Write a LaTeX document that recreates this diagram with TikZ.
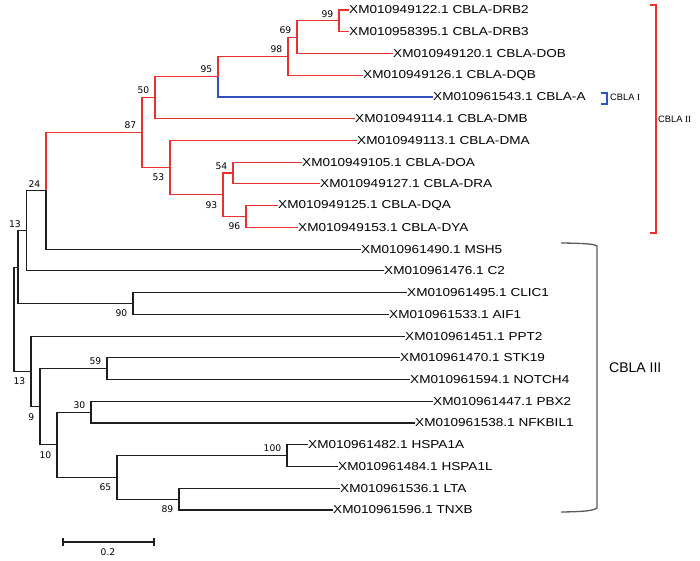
\documentclass[tikz,border=0pt]{standalone}
\usepackage{fontspec}
\usepackage{graphicx}
\setmainfont{Liberation Sans}
\newfontfamily\bsfont{DejaVu Sans}
\newfontfamily\romfont{Liberation Serif}
\newcommand{\leaftxt}[1]{\scalebox{1.18}[1]{#1}}
\definecolor{cladered}{RGB}{236,48,48}
\definecolor{cladeblue}{RGB}{50,80,190}
\definecolor{treeblack}{RGB}{30,30,30}
\definecolor{brackgrey}{RGB}{90,90,90}
\begin{document}
\begin{tikzpicture}[x=1pt,y=-1pt,
  branch/.style={line width=1.1pt, draw=treeblack, line cap=rect},
  redbranch/.style={line width=1.1pt, draw=cladered, line cap=rect},
  bluebranch/.style={line width=1.1pt, draw=cladeblue, line cap=rect},
  leaflab/.style={anchor=west, inner sep=1pt, font=\fontsize{11.5}{13}\selectfont, text=black},
  bsabove/.style={anchor=south east, inner sep=0pt, xshift=-5.5pt, yshift=3.5pt, font=\bsfont\fontsize{9.2}{11}\selectfont},
  bsbelow/.style={anchor=north east, inner sep=0pt, xshift=-5.5pt, yshift=-6.3pt, font=\bsfont\fontsize{9.2}{11}\selectfont}
]
\useasboundingbox (0,0) rectangle (700,561);
% leaves
\coordinate (l0) at (348,10);
\coordinate (l1) at (348,31.7);
\coordinate (l2) at (392,53.5);
\coordinate (l3) at (362,75.2);
\coordinate (l4) at (432,97);
\coordinate (l5) at (354,118.7);
\coordinate (l6) at (356,140.4);
\coordinate (l7) at (301,162.2);
\coordinate (l8) at (319,183.9);
\coordinate (l9) at (277,205.7);
\coordinate (l10) at (297,227.4);
\coordinate (l11) at (360,249.1);
\coordinate (l12) at (383,270.9);
\coordinate (l13) at (406,292.6);
\coordinate (l14) at (388,314.3);
\coordinate (l15) at (404,336.1);
\coordinate (l16) at (399,357.8);
\coordinate (l17) at (409,379.6);
\coordinate (l18) at (432,401.3);
\coordinate (l19) at (414,423);
\coordinate (l20) at (307,444.8);
\coordinate (l21) at (337,466.5);
\coordinate (l22) at (339,488.3);
\coordinate (l23) at (332,510);
% internal nodes
\coordinate (nA) at (339,20.85);
\coordinate (nB) at (297,37.2);
\coordinate (nC) at (288,56.2);
\coordinate (nD) at (218,76.6);
\coordinate (nE) at (155,97.6);
\coordinate (nJ) at (246,216.5);
\coordinate (nI) at (233,173);
\coordinate (nH) at (223,194.8);
\coordinate (nG) at (170,167.6);
\coordinate (nF) at (142,132.6);
\coordinate (nK) at (46,190.9);
\coordinate (nL) at (26.5,230.9);
\coordinate (nN) at (133,303.5);
\coordinate (nM) at (18,267.2);
\coordinate (nR) at (107,368.7);
\coordinate (nS) at (91,412.2);
\coordinate (nU) at (287,455.6);
\coordinate (nV) at (179,499.2);
\coordinate (nT) at (117,477.4);
\coordinate (nQ) at (57,444.8);
\coordinate (nP) at (40,406.8);
\coordinate (nO) at (31,371.5);
\coordinate (root) at (14,319.3);
% red clade
\draw[redbranch] (nA) |- (l0);
\draw[redbranch] (nA) |- (l1);
\draw[redbranch] (nB) |- (nA);
\draw[redbranch] (nB) |- (l2);
\draw[redbranch] (nC) |- (nB);
\draw[redbranch] (nC) |- (l3);
\draw[redbranch] (nD) |- (nC);
\draw[bluebranch] (nD) |- (l4);
\draw[redbranch] (nE) |- (nD);
\draw[redbranch] (nE) |- (l5);
\draw[redbranch] (nF) |- (nE);
\draw[redbranch] (nF) |- (nG);
\draw[redbranch] (nG) |- (l6);
\draw[redbranch] (nG) |- (nH);
\draw[redbranch] (nH) |- (nI);
\draw[redbranch] (nH) |- (nJ);
\draw[redbranch] (nI) |- (l7);
\draw[redbranch] (nI) |- (l8);
\draw[redbranch] (nJ) |- (l9);
\draw[redbranch] (nJ) |- (l10);
\draw[redbranch] (nK) |- (nF);
% black part
\draw[branch] (nK) |- (l11);
\draw[branch] (nL) |- (nK);
\draw[branch] (nL) |- (l12);
\draw[branch] (nM) |- (nL);
\draw[branch] (nM) |- (nN);
\draw[branch] (nN) |- (l13);
\draw[branch] (nN) |- (l14);
\draw[branch] (root) |- (nM);
\draw[branch] (root) |- (nO);
\draw[branch] (nO) |- (l15);
\draw[branch] (nO) |- (nP);
\draw[branch] (nP) |- (nR);
\draw[branch] (nP) |- (nQ);
\draw[branch] (nR) |- (l16);
\draw[branch] (nR) |- (l17);
\draw[branch] (nQ) |- (nS);
\draw[branch] (nQ) |- (nT);
\draw[branch] (nS) |- (l18);
\draw[branch] (nS) |- (l19);
\draw[branch] (nT) |- (nU);
\draw[branch] (nT) |- (nV);
\draw[branch] (nU) |- (l20);
\draw[branch] (nU) |- (l21);
\draw[branch] (nV) |- (l22);
\draw[branch] (nV) |- (l23);
% leaf labels
\node[leaflab] (t0) at (l0) {\leaftxt{XM010949122.1 CBLA-DRB2}};
\node[leaflab] (t1) at (l1) {\leaftxt{XM010958395.1 CBLA-DRB3}};
\node[leaflab] (t2) at (l2) {\leaftxt{XM010949120.1 CBLA-DOB}};
\node[leaflab] (t3) at (l3) {\leaftxt{XM010949126.1 CBLA-DQB}};
\node[leaflab] (t4) at (l4) {\leaftxt{XM010961543.1 CBLA-A}};
\node[leaflab] (t5) at (l5) {\leaftxt{XM010949114.1 CBLA-DMB}};
\node[leaflab] (t6) at (l6) {\leaftxt{XM010949113.1 CBLA-DMA}};
\node[leaflab] (t7) at (l7) {\leaftxt{XM010949105.1 CBLA-DOA}};
\node[leaflab] (t8) at (l8) {\leaftxt{XM010949127.1 CBLA-DRA}};
\node[leaflab] (t9) at (l9) {\leaftxt{XM010949125.1 CBLA-DQA}};
\node[leaflab] (t10) at (l10) {\leaftxt{XM010949153.1 CBLA-DYA}};
\node[leaflab] (t11) at (l11) {\leaftxt{XM010961490.1 MSH5}};
\node[leaflab] (t12) at (l12) {\leaftxt{XM010961476.1 C2}};
\node[leaflab] (t13) at (l13) {\leaftxt{XM010961495.1 CLIC1}};
\node[leaflab] (t14) at (l14) {\leaftxt{XM010961533.1 AIF1}};
\node[leaflab] (t15) at (l15) {\leaftxt{XM010961451.1 PPT2}};
\node[leaflab] (t16) at (l16) {\leaftxt{XM010961470.1 STK19}};
\node[leaflab] (t17) at (l17) {\leaftxt{XM010961594.1 NOTCH4}};
\node[leaflab] (t18) at (l18) {\leaftxt{XM010961447.1 PBX2}};
\node[leaflab] (t19) at (l19) {\leaftxt{XM010961538.1 NFKBIL1}};
\node[leaflab] (t20) at (l20) {\leaftxt{XM010961482.1 HSPA1A}};
\node[leaflab] (t21) at (l21) {\leaftxt{XM010961484.1 HSPA1L}};
\node[leaflab] (t22) at (l22) {\leaftxt{XM010961536.1 LTA}};
\node[leaflab] (t23) at (l23) {\leaftxt{XM010961596.1 TNXB}};
% bootstrap values
\node[bsabove] (bA) at (nA) {99};
\node[bsabove] (bB) at (nB) {69};
\node[bsabove] (bC) at (nC) {98};
\node[bsabove] (bD) at (nD) {95};
\node[bsabove] (bE) at (nE) {50};
\node[bsabove] (bF) at (nF) {87};
\node[bsbelow] (bG) at (nG) {53};
\node[bsbelow] (bH) at (nH) {93};
\node[bsabove] (bI) at (nI) {54};
\node[bsbelow] (bJ) at (nJ) {96};
\node[bsabove] (bK) at (nK) {24};
\node[bsabove] (bL) at (nL) {13};
\node[bsbelow] (bN) at (nN) {90};
\node[bsbelow] (bO) at (nO) {13};
\node[bsbelow] (bP) at (nP) {9};
\node[bsabove] (bR) at (nR) {59};
\node[bsbelow] (bQ) at (nQ) {10};
\node[bsabove] (bS) at (nS) {30};
\node[bsbelow] (bT) at (nT) {65};
\node[bsabove] (bU) at (nU) {100};
\node[bsbelow] (bV) at (nV) {89};
% brackets
\coordinate (r1) at (650,5);
\coordinate (r2) at (656,5);
\coordinate (r3) at (656,233);
\coordinate (r4) at (650,233);
\draw[cladered, line width=1.1pt] (r1) -- (r2) -- (r3) -- (r4);
\node[anchor=west, inner sep=0pt, font=\fontsize{9.3}{11}\selectfont] (c2) at (658,119) {CBLA {\romfont II}};
\coordinate (b1) at (601,93);
\coordinate (b2) at (607,93);
\coordinate (b3) at (607,104);
\coordinate (b4) at (601,104);
\draw[cladeblue, line width=1.1pt] (b1) -- (b2) -- (b3) -- (b4);
\node[anchor=west, inner sep=0pt, font=\fontsize{9.3}{11}\selectfont] (c1) at (610,97) {CBLA {\romfont I}};
\coordinate (g1) at (561,243);
\coordinate (g2) at (597,246);
\coordinate (g3) at (597,508);
\coordinate (g4) at (561,512);
\draw[brackgrey, line width=1.3pt] (g1) .. controls (585,243.3) and (594,244) .. (g2) -- (g3) .. controls (594,510.5) and (585,511.7) .. (g4);
\node[anchor=west, inner sep=0pt, font=\fontsize{14}{16}\selectfont] (c3) at (609,368) {CBLA III};
% scale bar
\coordinate (s1) at (63,542);
\coordinate (s2) at (154,542);
\draw[treeblack, line width=1.1pt] (s1) -- (s2);
\draw[treeblack, line width=1.1pt] ([yshift=4pt]s1) -- ([yshift=-4pt]s1);
\draw[treeblack, line width=1.1pt] ([yshift=4pt]s2) -- ([yshift=-4pt]s2);
\node[font=\bsfont\fontsize{9.2}{11}\selectfont, inner sep=0pt] (sl) at (108,552) {0.2};
\end{tikzpicture}
\end{document}
